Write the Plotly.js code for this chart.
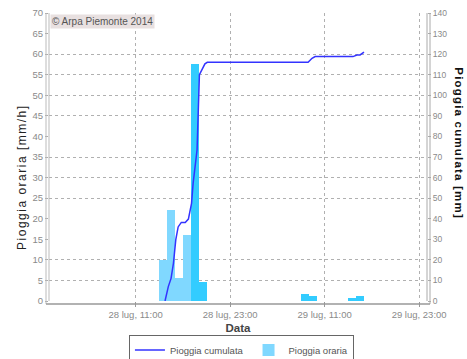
<!DOCTYPE html>
<html>
<head>
<meta charset="utf-8">
<script src="https://cdn.plot.ly/plotly-3.0.1.min.js"></script>
<style>
html,body{margin:0;padding:0;background:#fff;}
#chart{width:467px;height:359px;}
</style>
</head>
<body>
<div id="chart"></div>
<script>
// ---- data ----
const hourTimes = ['2014-07-28 14:30','2014-07-28 15:30','2014-07-28 16:30','2014-07-28 17:30','2014-07-28 18:30','2014-07-28 19:30',
                   '2014-07-29 08:30','2014-07-29 09:30','2014-07-29 14:30','2014-07-29 15:30'];
const hourlyRain = [10, 22, 5.5, 16, 57.5, 4.6, 1.8, 1.1, 0.8, 1.2];

const cumTimes = ['2014-07-28 14:44','2014-07-28 15:09','2014-07-28 15:30','2014-07-28 15:48','2014-07-28 16:06','2014-07-28 16:24',
                  '2014-07-28 16:48','2014-07-28 17:18','2014-07-28 17:42','2014-07-28 18:06','2014-07-28 18:18','2014-07-28 18:48',
                  '2014-07-28 19:06','2014-07-28 19:24','2014-07-28 19:48','2014-07-28 20:06','2014-07-29 08:54','2014-07-29 09:24',
                  '2014-07-29 09:48','2014-07-29 14:36','2014-07-29 15:06','2014-07-29 15:30','2014-07-29 16:00'];
const cumRain = [0, 7, 11, 18.3, 29.8, 36, 38.2, 38.2, 39.8, 47.5, 57.2, 73.4,
                 110, 112.3, 115.3, 116, 116, 118, 118.8, 118.8, 119.6, 119.6, 121];

const xTickVals = ['2014-07-28 11:00','2014-07-28 23:00','2014-07-29 11:00','2014-07-29 23:00'];
const xTickText = ['28 lug, 11:00','28 lug, 23:00','29 lug, 11:00','29 lug, 23:00'];
const xRange = ['2014-07-28 00:00','2014-07-30 00:00'];
const leftTicks = [0,5,10,15,20,25,30,35,40,45,50,55,60,65,70];
const rightTicks = [0,10,20,30,40,50,60,70,80,90,100,110,120,130,140];
const gridVals = [5,10,25,30,35,45,50,55,60,70];

// ---- styles ----
const lightBar = 'rgb(128,216,255)', brightBar = 'rgb(51,204,255)';
const barColors = [lightBar, lightBar, lightBar, lightBar, brightBar, brightBar, brightBar, brightBar, brightBar, brightBar];
const FONT = 'Liberation Sans, Arial, sans-serif';
const tickGray = '#8a8a8a';

const traces = [
  {
    type: 'scatter', mode: 'lines', name: 'Pioggia cumulata',
    x: cumTimes, y: cumRain, yaxis: 'y2',
    line: {color: '#3333ff', width: 1.5}
  },
  {
    type: 'bar', name: 'Pioggia oraria',
    x: hourTimes, y: hourlyRain, width: 3600000,
    marker: {color: barColors, line: {width: 0}},
    yaxis: 'y'
  },
  {type: 'scatter', x: [], y: [], yaxis: 'y3', showlegend: false, hoverinfo: 'skip'}
];

const layout = {
  width: 467, height: 359,
  margin: {l: 49, r: 40, t: 13, b: 58, pad: 0, autoexpand: false},
  paper_bgcolor: '#fff', plot_bgcolor: '#fff',
  font: {family: FONT, size: 9, color: tickGray},
  showlegend: true,
  bargap: 0,
  xaxis: {
    type: 'date', range: xRange, automargin: false,
    tickvals: xTickVals, ticktext: xTickText,
    tickfont: {family: FONT, size: 9.5, color: tickGray},
    ticks: 'outside', ticklen: 5, tickcolor: '#999',
    showgrid: true, gridcolor: '#b0b0b0', griddash: 'dot', gridwidth: 1,
    showline: false, zeroline: false,
    title: {text: 'Data', font: {family: FONT, size: 11.5, color: '#444', weight: 'bold'}, standoff: 4}
  },
  yaxis: {
    range: [0, 70], tickvals: leftTicks, automargin: false,
    tickfont: {family: FONT, size: 9.5, color: tickGray},
    ticks: 'outside', ticklen: 3, tickcolor: '#aaa',
    showgrid: false, zeroline: false, showline: false
  },
  yaxis2: {
    range: [0, 140], tickvals: rightTicks, overlaying: 'y', side: 'right', automargin: false,
    tickfont: {family: FONT, size: 8.5, color: tickGray},
    ticks: 'outside', ticklen: 3, tickcolor: '#aaa',
    showgrid: false, zeroline: false, showline: false
  },
  yaxis3: {
    range: [0, 70], tickvals: gridVals, overlaying: 'y', side: 'left', automargin: false,
    showticklabels: false, ticks: '',
    showgrid: true, gridcolor: '#b0b0b0', griddash: 'dot', gridwidth: 1,
    zeroline: false, showline: false
  },
  legend: {
    orientation: 'h', xref: 'container', yref: 'container',
    x: 0.517, xanchor: 'center', y: 0.068, yanchor: 'top',
    bordercolor: '#666', borderwidth: 1, bgcolor: '#fff',
    font: {family: FONT, size: 9.5, color: '#555'},
    itemwidth: 30, traceorder: 'normal', tracegroupgap: 0
  },
  shapes: [
    {type: 'line', xref: 'paper', yref: 'paper', x0: -3/378, x1: -3/378, y0: -3/288, y1: 1, line: {color: '#bbb', width: 1}},
    {type: 'line', xref: 'paper', yref: 'paper', x0: 0, x1: 0, y0: 0, y1: 1, line: {color: '#bbb', width: 1}},
    {type: 'line', xref: 'paper', yref: 'paper', x0: 1, x1: 1, y0: 0, y1: 1, line: {color: '#aaa', width: 1}},
    {type: 'line', xref: 'paper', yref: 'paper', x0: 1 + 3/378, x1: 1 + 3/378, y0: -3/288, y1: 1, line: {color: '#aaa', width: 1}},
    {type: 'line', xref: 'paper', yref: 'paper', x0: -3/378, x1: 1 + 3/378, y0: -3/288, y1: -3/288, line: {color: '#999', width: 1.5}}
  ],
  annotations: [
    {
      text: '© Arpa Piemonte 2014', xref: 'paper', yref: 'paper', x: 0.003, y: 0.995,
      xanchor: 'left', yanchor: 'top', showarrow: false,
      bgcolor: 'rgb(232,224,224)', borderpad: 1,
      font: {family: FONT, size: 10, color: '#555'}
    },
    {
      text: 'Pioggia oraria [mm/h]', xref: 'paper', yref: 'paper', x: -0.0714, y: 0.43,
      xanchor: 'center', yanchor: 'middle', textangle: -90, showarrow: false,
      font: {family: FONT, size: 12, color: '#222'}
    },
    {
      text: 'Pioggia cumulata [mm]', xref: 'paper', yref: 'paper', x: 1.0847, y: 0.549,
      xanchor: 'center', yanchor: 'middle', textangle: 90, showarrow: false,
      font: {family: FONT, size: 11.5, color: '#111', weight: 'bold'}
    }
  ]
};

Plotly.newPlot('chart', traces, layout, {staticPlot: true, displayModeBar: false}).then(function(){
  var anns = document.querySelectorAll('.annotation');
  if (anns.length >= 3) {
    anns[1].querySelector('text').style.letterSpacing = '1.5px';
    anns[2].querySelector('text').style.letterSpacing = '1.2px';
  }
});
</script>
</body>
</html>
